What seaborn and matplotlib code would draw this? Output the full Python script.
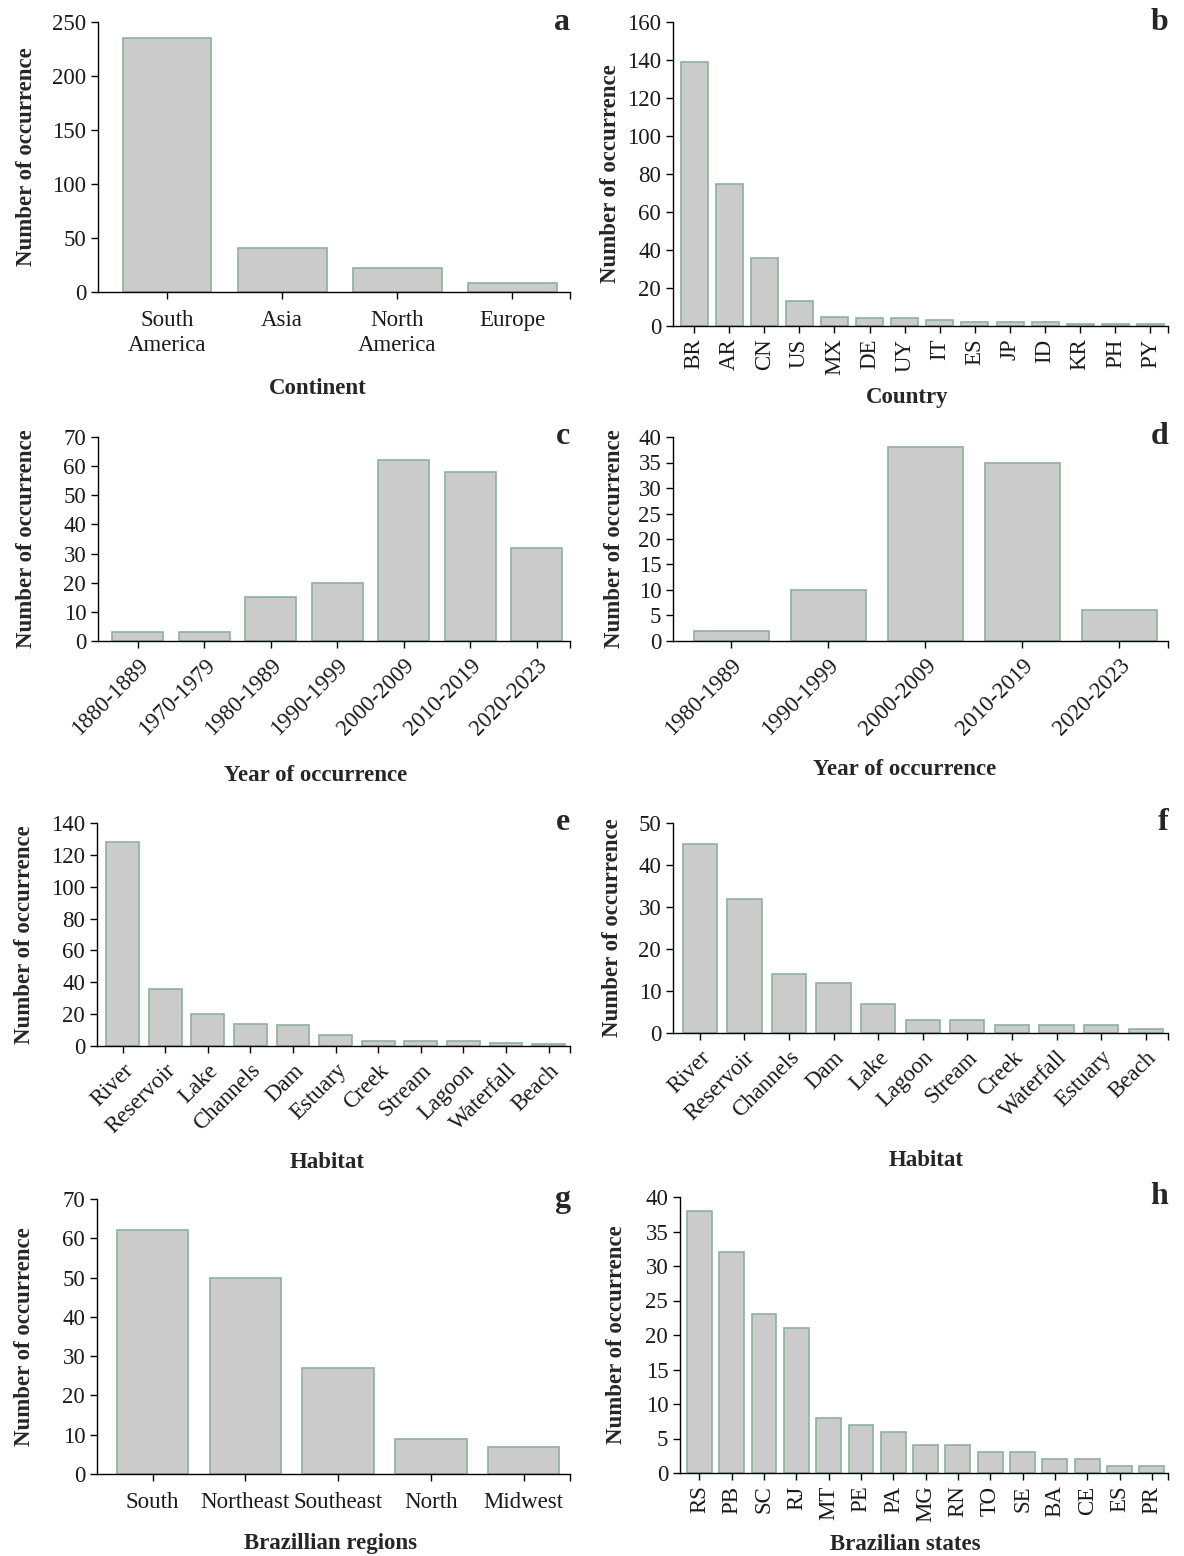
import matplotlib
matplotlib.use("Agg")
import matplotlib.pyplot as plt
import seaborn as sns

# data
continents = ["South\nAmerica", "Asia", "North\nAmerica", "Europe"]
continent_counts = [235, 41, 22, 8]

countries = ["BR", "AR", "CN", "US", "MX", "DE", "UY", "IT", "ES", "JP", "ID", "KR", "PH", "PY"]
country_counts = [139, 75, 36, 13, 5, 4, 4, 3, 2, 2, 2, 1, 1, 1]

decades_all = ["1880-1889", "1970-1979", "1980-1989", "1990-1999", "2000-2009", "2010-2019", "2020-2023"]
decade_counts_all = [3, 3, 15, 20, 62, 58, 32]

decades_br = ["1980-1989", "1990-1999", "2000-2009", "2010-2019", "2020-2023"]
decade_counts_br = [2, 10, 38, 35, 6]

habitats_all = ["River", "Reservoir", "Lake", "Channels", "Dam", "Estuary", "Creek",
                "Stream", "Lagoon", "Waterfall", "Beach"]
habitat_counts_all = [128, 36, 20, 14, 13, 7, 3, 3, 3, 2, 1]

habitats_br = ["River", "Reservoir", "Channels", "Dam", "Lake", "Lagoon", "Stream",
               "Creek", "Waterfall", "Estuary", "Beach"]
habitat_counts_br = [45, 32, 14, 12, 7, 3, 3, 2, 2, 2, 1]

regions = ["South", "Northeast", "Southeast", "North", "Midwest"]
region_counts = [62, 50, 27, 9, 7]

states = ["RS", "PB", "SC", "RJ", "MT", "PE", "PA", "MG", "RN", "TO", "SE", "BA", "CE", "ES", "PR"]
state_counts = [38, 32, 23, 21, 8, 7, 6, 4, 4, 3, 3, 2, 2, 1, 1]

sns.set_theme(style="ticks")
plt.rcParams["font.family"] = ["Liberation Serif", "DejaVu Serif"]

W, H = 1184, 1556
fig = plt.figure(figsize=(W / 100, H / 100), dpi=100)

BAR = "#cbcbcb"
EDGE = "#8fb09e"
FS = 16.5

# letter, cats, vals, xlabel, ymax, ystep, rotation,
# axes box px (left, top, right, bottom), ylabel x px, xlabel (x, y) px
panels = [
    ("a", continents, continent_counts, "Continent", 250, 50, 0,
     (98, 22, 570, 292), 27, (318, 388)),
    ("b", countries, country_counts, "Country", 160, 20, 90,
     (673, 22, 1168, 326), 610, (907, 397)),
    ("c", decades_all, decade_counts_all, "Year of occurrence", 70, 10, 45,
     (98, 437, 570, 641), 27, (316, 776)),
    ("d", decades_br, decade_counts_br, "Year of occurrence", 40, 5, 45,
     (673, 437, 1168, 641), 615, (905, 770)),
    ("e", habitats_all, habitat_counts_all, "Habitat", 140, 20, 45,
     (97, 823, 570, 1046), 25, (327, 1162)),
    ("f", habitats_br, habitat_counts_br, "Habitat", 50, 10, 45,
     (673, 823, 1168, 1033), 613, (926, 1161)),
    ("g", regions, region_counts, "Brazillian regions", 70, 10, 0,
     (97, 1199, 570, 1474), 25, (330, 1543)),
    ("h", states, state_counts, "Brazilian states", 40, 5, 90,
     (680, 1197, 1168, 1473), 617, (905, 1545)),
]

for letter, cats, vals, xlab, ymax, ystep, rot, (l, t, r, b), ylx, (xlx, xly) in panels:
    ax = fig.add_axes([l / W, 1 - b / H, (r - l) / W, (b - t) / H])
    sns.barplot(x=cats, y=vals, ax=ax, color=BAR, edgecolor=EDGE, linewidth=1.2,
                saturation=1, width=0.77)
    n = len(cats)
    ax.set_xlim(-0.6, n - 0.5)
    ax.set_ylim(0, ymax)
    ax.set_yticks(range(0, ymax + 1, ystep))
    ax.set_xticks(list(range(n)) + [n - 0.5])
    labels = list(cats) + [""]
    if rot == 45:
        ax.set_xticklabels(labels, rotation=45, ha="right", rotation_mode="anchor")
        ax.tick_params(axis="x", pad=5)
    elif rot == 90:
        ax.set_xticklabels(labels, rotation=90)
        ax.tick_params(axis="x", pad=4)
    else:
        ax.set_xticklabels(labels, linespacing=1.25)
        ax.tick_params(axis="x", pad=8)
    ax.tick_params(axis="both", labelsize=FS, length=5, width=1, color="black",
                   labelcolor="#1a1a1a")
    sns.despine(ax=ax)
    for s in ("left", "bottom"):
        ax.spines[s].set_color("black")
        ax.spines[s].set_linewidth(1)

    ax.set_ylabel("Number of occurrence", fontsize=FS, fontweight="bold")
    ax.yaxis.set_label_coords((ylx - l) / (r - l), 0.5)
    ax.yaxis.label.set_va("center")

    ax.set_xlabel(xlab, fontsize=FS, fontweight="bold")
    ax.xaxis.set_label_coords((xlx - l) / (r - l), -(xly - b) / (b - t))
    ax.xaxis.label.set_va("center")

    ax.text(1.0, 1.0, letter, transform=ax.transAxes, fontsize=23, fontweight="bold",
            ha="right", va="center")

fig.savefig("out.png", dpi=100, facecolor="white")
